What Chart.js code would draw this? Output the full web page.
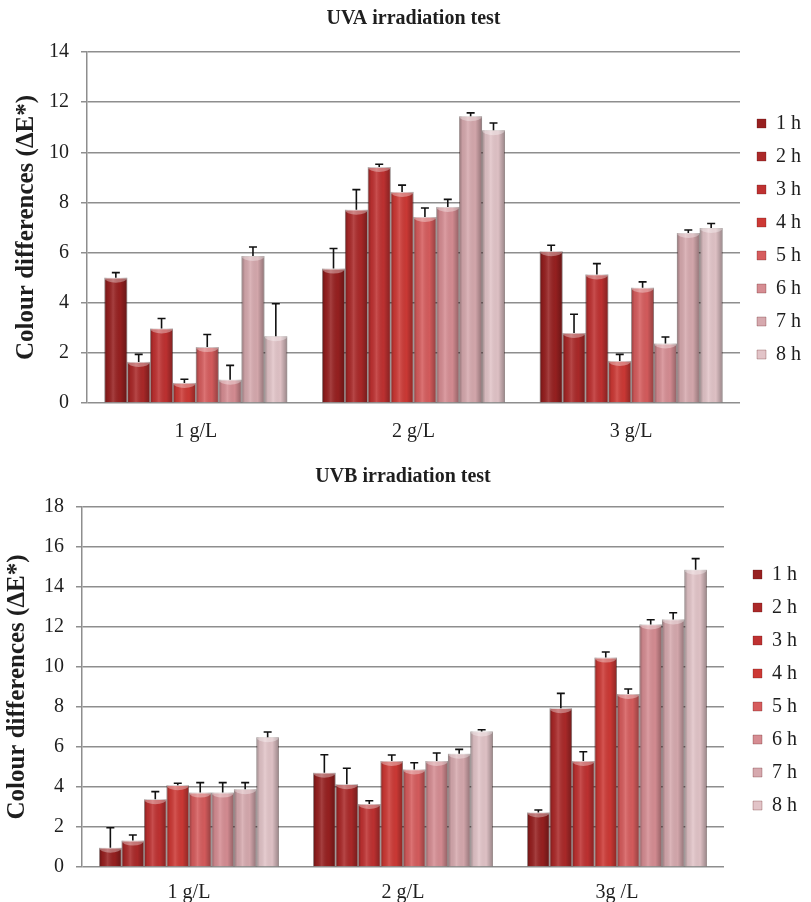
<!DOCTYPE html>
<html>
<head>
<meta charset="utf-8">
<script src="https://cdn.jsdelivr.net/npm/chart.js@4.4.1/dist/chart.umd.min.js"></script>
<style>
  body { margin: 0; background: #fff; }
  #wrapUva { position: absolute; left: 0; top: 0; }
  #wrapUvb { position: absolute; left: 0; top: 455px; }
</style>
</head>
<body>
<div id="wrapUva"><canvas id="chartUva" width="811" height="450"></canvas></div>
<div id="wrapUvb"><canvas id="chartUvb" width="811" height="450"></canvas></div>
<script>
// exposure times (one series each)
const hourLabels = ['1 h', '2 h', '3 h', '4 h', '5 h', '6 h', '7 h', '8 h'];

// concentrations on the x axis
const uvaConcentrations = ['1 g/L', '2 g/L', '3 g/L'];
const uvbConcentrations = ['1 g/L', '2 g/L', '3g /L'];

// UVA: mean ΔE* per hour, for 1, 2 and 3 g/L
const uvaMeans = [
    [5.0, 5.36, 6.05],
    [1.64, 7.71, 2.79],
    [2.97, 9.41, 5.13],
    [0.8, 8.42, 1.68],
    [2.23, 7.42, 4.6],
    [0.93, 7.82, 2.37],
    [5.86, 11.44, 6.78],
    [2.66, 10.88, 6.98]
];
const uvaErrors = [
    [0.2, 0.8, 0.24],
    [0.3, 0.8, 0.75],
    [0.4, 0.11, 0.43],
    [0.15, 0.27, 0.26],
    [0.5, 0.36, 0.23],
    [0.57, 0.3, 0.26],
    [0.36, 0.13, 0.12],
    [1.3, 0.29, 0.18]
];

// UVB: mean ΔE* per hour, for 1, 2 and 3 g/L
const uvbMeans = [
    [0.96, 4.71, 2.73],
    [1.32, 4.14, 7.94],
    [3.39, 3.15, 5.3],
    [4.09, 5.3, 10.47],
    [3.72, 4.88, 8.65],
    [3.72, 5.3, 12.13],
    [3.89, 5.66, 12.38],
    [6.49, 6.78, 14.86]
];
const uvbErrors = [
    [1.0, 0.9, 0.12],
    [0.28, 0.8, 0.74],
    [0.38, 0.16, 0.46],
    [0.1, 0.3, 0.28],
    [0.5, 0.33, 0.25],
    [0.5, 0.4, 0.23],
    [0.33, 0.22, 0.33],
    [0.26, 0.08, 0.56]
];

const uvaMax = 14;
const uvbMax = 18;
const tickStep = 2;

// colores de rojo oscuro a rosa claro
const HOUR_COLORS = [
    '#972020', '#ab2929', '#bf3131', '#cd3935',
    '#d65c5d', '#d68d93', '#d6a9ae', '#e2c4c8'
];

const SERIF = "'Liberation Serif', 'Times New Roman', serif";
const GRID = '#8e8e8e';
const TEXT = '#1e1e1e';

// sombreado tipo cilindro sobre cada barra
const cylinderShade = {
    id: 'cylinderShade',
    afterDatasetsDraw(chart) {
        const ctx = chart.ctx;
        chart.data.datasets.forEach((ds, d) => {
            chart.getDatasetMeta(d).data.forEach(bar => {
                const left = bar.x - bar.width / 2;
                const w = bar.width;
                const h = bar.base - bar.y;
                const g = ctx.createLinearGradient(left, 0, left + w, 0);
                g.addColorStop(0, 'rgba(0,0,0,0.32)');
                g.addColorStop(0.15, 'rgba(0,0,0,0.06)');
                g.addColorStop(0.38, 'rgba(255,255,255,0.14)');
                g.addColorStop(0.7, 'rgba(0,0,0,0.02)');
                g.addColorStop(1, 'rgba(0,0,0,0.32)');
                ctx.save();
                ctx.fillStyle = g;
                ctx.fillRect(left, bar.y, w, h);
                ctx.beginPath();
                ctx.rect(left, bar.y, w, h);
                ctx.clip();
                ctx.beginPath();
                ctx.ellipse(bar.x, bar.y, w / 2, 5, 0, 0, Math.PI * 2);
                ctx.fillStyle = 'rgba(255,255,255,0.35)';
                ctx.fill();
                ctx.restore();
            });
        });
    }
};

// barras de error (solo hacia arriba)
const errorBars = {
    id: 'errorBars',
    afterDatasetsDraw(chart) {
        const ctx = chart.ctx;
        const yScale = chart.scales.y;
        chart.data.datasets.forEach((ds, d) => {
            chart.getDatasetMeta(d).data.forEach((bar, i) => {
                const yTop = yScale.getPixelForValue(ds.data[i] + ds.errors[i]);
                ctx.save();
                ctx.strokeStyle = '#111';
                ctx.lineWidth = 1.6;
                ctx.beginPath();
                ctx.moveTo(bar.x, bar.y);
                ctx.lineTo(bar.x, yTop);
                ctx.moveTo(bar.x - 4, yTop);
                ctx.lineTo(bar.x + 4, yTop);
                ctx.stroke();
                ctx.restore();
            });
        });
    }
};

function buildChart(canvasId, cfg) {
    const datasets = hourLabels.map((h, i) => ({
        label: h,
        data: cfg.means[i],
        errors: cfg.errors[i],
        backgroundColor: HOUR_COLORS[i],
        borderColor: 'rgba(90,20,20,0.35)',
        borderWidth: 0.8,
        categoryPercentage: 0.84,
        barPercentage: 1.0
    }));

    return new Chart(document.getElementById(canvasId), {
        type: 'bar',
        data: { labels: cfg.categories, datasets: datasets },
        plugins: [cylinderShade, errorBars],
        options: {
            responsive: false,
            animation: false,
            layout: { padding: cfg.padding },
            plugins: {
                title: {
                    display: true,
                    text: cfg.title,
                    fullSize: false,
                    color: TEXT,
                    font: { family: SERIF, size: 20, weight: 'bold' },
                    padding: cfg.titlePadding
                },
                legend: {
                    position: 'right',
                    // título vacío: sólo baja un poco las entradas
                    title: {
                        display: true,
                        text: ' ',
                        font: { size: 10 },
                        padding: { top: cfg.legendShift, bottom: cfg.legendShift }
                    },
                    labels: {
                        boxWidth: 9,
                        boxHeight: 9,
                        padding: 13,
                        color: TEXT,
                        font: { family: SERIF, size: 20 }
                    }
                },
                tooltip: { enabled: false }
            },
            scales: {
                x: {
                    grid: { display: false, drawTicks: false },
                    border: { display: false },
                    ticks: {
                        color: TEXT,
                        padding: cfg.xPad,
                        font: { family: SERIF, size: 20 }
                    },
                    afterFit: axis => { axis.height = cfg.xHeight; }
                },
                y: {
                    min: 0,
                    max: cfg.max,
                    ticks: {
                        stepSize: tickStep,
                        color: TEXT,
                        padding: 12,
                        font: { family: SERIF, size: 20 }
                    },
                    grid: { color: GRID, lineWidth: 1.5, tickLength: 6 },
                    border: { color: GRID, width: 1.5 },
                    title: {
                        display: true,
                        text: 'Colour differences (ΔE*)',
                        color: TEXT,
                        font: { family: SERIF, size: 25, weight: 'bold' },
                        padding: { top: 2, bottom: 4 }
                    },
                    afterFit: axis => { axis.width = cfg.yWidth; }
                },
                // hueco entre el área del gráfico y la leyenda
                gap: {
                    type: 'linear',
                    position: 'right',
                    display: true,
                    grid: { display: false, drawTicks: false },
                    border: { display: false },
                    ticks: { display: false },
                    afterFit: axis => { axis.width = cfg.gap; }
                }
            }
        }
    });
}

buildChart('chartUva', {
    title: 'UVA irradiation test',
    categories: uvaConcentrations,
    means: uvaMeans,
    errors: uvaErrors,
    max: uvaMax,
    padding: { left: 10, right: 0, top: 0, bottom: 6 },
    titlePadding: { top: 7, bottom: 21 },
    xPad: 17,
    xHeight: 41,
    yWidth: 77,
    gap: 4,
    legendShift: 11
});

buildChart('chartUvb', {
    title: 'UVB irradiation test',
    categories: uvbConcentrations,
    means: uvbMeans,
    errors: uvbErrors,
    max: uvbMax,
    padding: { left: 1, right: 4, top: 0, bottom: 0 },
    titlePadding: { top: 10, bottom: 18 },
    xPad: 14,
    xHeight: 38,
    yWidth: 81,
    gap: 16,
    legendShift: 4
});
</script>
</body>
</html>
